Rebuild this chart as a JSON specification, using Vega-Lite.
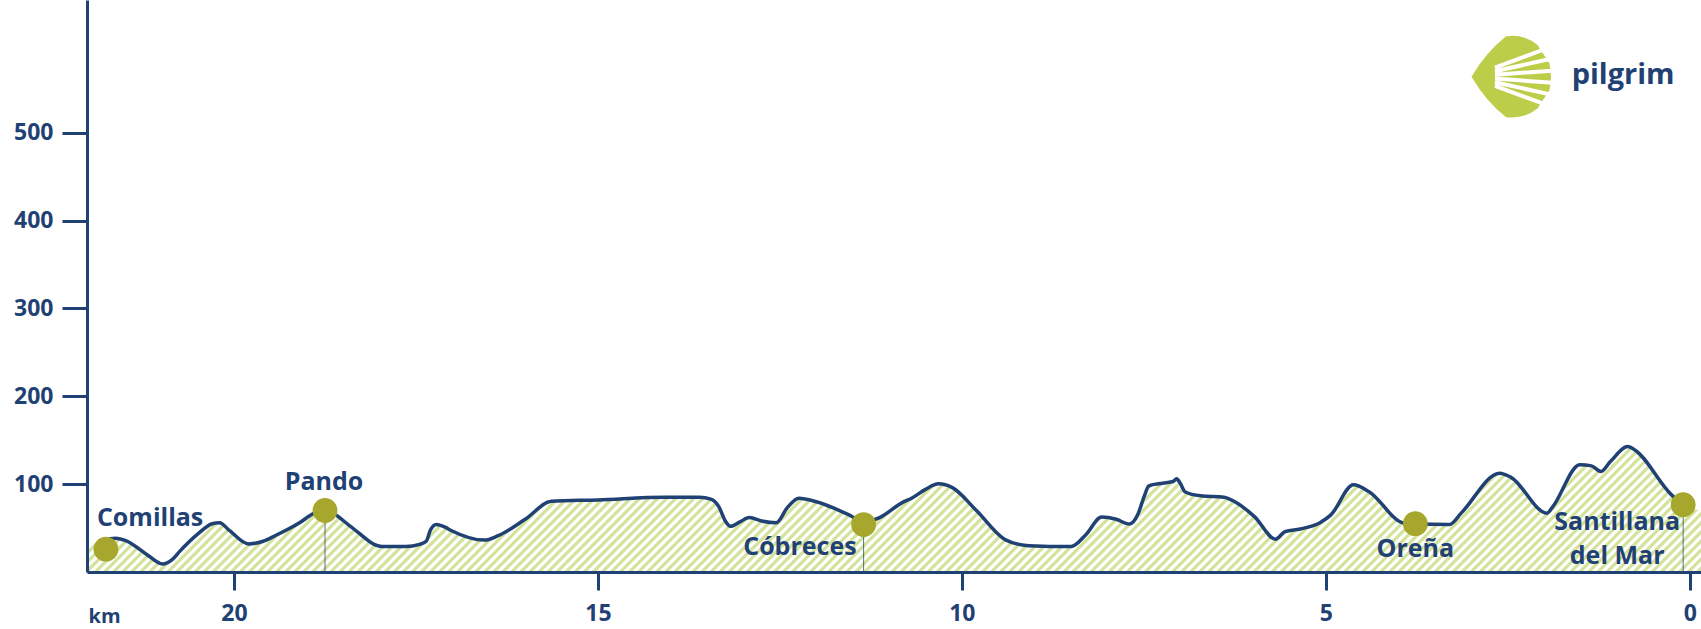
{
  "$schema": "https://vega.github.io/schema/vega-lite/v6.json",
  "width": 1614,
  "height": 572,
  "autosize": {"type": "none"},
  "padding": {"left": 87, "top": 0, "right": 0, "bottom": 57},
  "background": "white",
  "config": {"view": {"stroke": null}, "font": "Open Sans"},
  "datasets": {
    "profile": [
      {"km": 22.02, "elev": 31}, {"km": 21.8, "elev": 36}, {"km": 21.63, "elev": 38.5}, {"km": 21.48, "elev": 35.5},
      {"km": 21.2, "elev": 20}, {"km": 20.98, "elev": 9}, {"km": 20.85, "elev": 14}, {"km": 20.74, "elev": 24},
      {"km": 20.5, "elev": 43}, {"km": 20.3, "elev": 55}, {"km": 20.2, "elev": 56}, {"km": 20.06, "elev": 47},
      {"km": 19.8, "elev": 32}, {"km": 19.6, "elev": 35}, {"km": 19.43, "elev": 41.5}, {"km": 19.1, "elev": 56},
      {"km": 18.9, "elev": 67}, {"km": 18.75, "elev": 71}, {"km": 18.62, "elev": 66}, {"km": 18.4, "elev": 52},
      {"km": 17.96, "elev": 29}, {"km": 17.64, "elev": 29}, {"km": 17.45, "elev": 31.5}, {"km": 17.36, "elev": 35},
      {"km": 17.3, "elev": 48}, {"km": 17.22, "elev": 54}, {"km": 17.1, "elev": 51}, {"km": 17.01, "elev": 47},
      {"km": 16.56, "elev": 36.3}, {"km": 16.38, "elev": 41}, {"km": 16.0, "elev": 60}, {"km": 15.64, "elev": 80.5},
      {"km": 15.0, "elev": 82}, {"km": 14.08, "elev": 85}, {"km": 13.6, "elev": 85}, {"km": 13.45, "elev": 83},
      {"km": 13.34, "elev": 74.5}, {"km": 13.25, "elev": 58}, {"km": 13.18, "elev": 52}, {"km": 13.05, "elev": 57},
      {"km": 12.92, "elev": 62}, {"km": 12.75, "elev": 58}, {"km": 12.55, "elev": 56}, {"km": 12.4, "elev": 73},
      {"km": 12.24, "elev": 84}, {"km": 12.0, "elev": 80}, {"km": 11.55, "elev": 65}, {"km": 11.35, "elev": 57},
      {"km": 11.13, "elev": 62}, {"km": 10.82, "elev": 79}, {"km": 10.69, "elev": 84}, {"km": 10.5, "elev": 94},
      {"km": 10.32, "elev": 100.3}, {"km": 10.13, "elev": 96}, {"km": 9.8, "elev": 70}, {"km": 9.4, "elev": 36.6},
      {"km": 9.08, "elev": 30}, {"km": 8.5, "elev": 29}, {"km": 8.3, "elev": 42}, {"km": 8.08, "elev": 62.5},
      {"km": 7.88, "elev": 60}, {"km": 7.7, "elev": 54.5}, {"km": 7.58, "elev": 66}, {"km": 7.5, "elev": 85},
      {"km": 7.43, "elev": 98}, {"km": 7.3, "elev": 100.5}, {"km": 7.1, "elev": 103}, {"km": 7.05, "elev": 106},
      {"km": 7.0, "elev": 101}, {"km": 6.93, "elev": 91}, {"km": 6.72, "elev": 86.7}, {"km": 6.4, "elev": 85.2},
      {"km": 6.25, "elev": 80}, {"km": 5.98, "elev": 63}, {"km": 5.69, "elev": 37.4}, {"km": 5.56, "elev": 46},
      {"km": 5.35, "elev": 49}, {"km": 5.08, "elev": 56}, {"km": 4.93, "elev": 65}, {"km": 4.62, "elev": 99.2},
      {"km": 4.41, "elev": 91.6}, {"km": 3.93, "elev": 55.6}, {"km": 3.77, "elev": 54.5}, {"km": 3.3, "elev": 54},
      {"km": 3.14, "elev": 67}, {"km": 2.61, "elev": 112.5}, {"km": 2.46, "elev": 108}, {"km": 1.96, "elev": 67},
      {"km": 1.88, "elev": 74.5}, {"km": 1.51, "elev": 122}, {"km": 1.35, "elev": 120.8}, {"km": 1.22, "elev": 114.3},
      {"km": 1.09, "elev": 125.7}, {"km": 0.85, "elev": 142.8}, {"km": 0.77, "elev": 139.8}, {"km": 0.25, "elev": 87.8},
      {"km": 0.09, "elev": 76.5}, {"km": -0.155, "elev": 70}
    ],
    "stops": [
      {"name": "Comillas", "label": "Comillas", "km": 21.76, "elev": 26, "drop": false},
      {"name": "Pando", "label": "Pando", "km": 18.75, "elev": 70, "drop": true},
      {"name": "Cóbreces", "label": "Cóbreces", "km": 11.35, "elev": 54, "drop": true},
      {"name": "Oreña", "label": "Oreña", "km": 3.77, "elev": 55, "drop": false},
      {"name": "Santillana del Mar", "label": "Santillana\ndel Mar", "km": 0.09, "elev": 76.5, "drop": true}
    ]
  },
  "layer": [
    {
      "data": {"values": [{"pattern": "hatch"}]},
      "mark": {"type": "rule", "clip": true, "color": "#d3e39c", "strokeWidth": 1260, "strokeDash": [3.2, 3.2], "strokeCap": "butt"},
      "encoding": {
        "x": {"datum": 17.004, "type": "quantitative",
          "scale": {"domain": [-0.155, 22.02], "reverse": true, "nice": false, "zero": false},
          "axis": {"values": [0, 5, 10, 15, 20], "format": "d", "title": "km", "titleX": 1, "titleY": 50,
            "titleAlign": "left", "titleBaseline": "alphabetic", "titleFont": "Open Sans", "titleFontSize": 20,
            "titleFontWeight": "bold", "titleColor": "#1f4173", "domainColor": "#1f4173", "domainWidth": 3,
            "tickColor": "#1f4173", "tickWidth": 3, "tickSize": 18, "labelFont": "Open Sans", "labelFontSize": 23,
            "labelFontWeight": "bold", "labelColor": "#1f4173", "labelPadding": 12, "labelFlush": false,
            "grid": false, "zindex": 1}},
        "x2": {"datum": 4.861},
        "y": {"datum": 583.7, "type": "quantitative",
          "scale": {"domain": [0, 651], "nice": false, "zero": false},
          "axis": {"values": [100, 200, 300, 400, 500], "title": null, "domainColor": "#1f4173", "domainWidth": 3,
            "tickColor": "#1f4173", "tickWidth": 3, "tickSize": 25, "labelFont": "Open Sans", "labelFontSize": 23,
            "labelFontWeight": "bold", "labelColor": "#1f4173", "labelPadding": 9, "grid": false, "zindex": 1}},
        "y2": {"datum": -422.1}
      }
    },
    {
      "data": {"name": "profile"},
      "mark": {"type": "area", "interpolate": "monotone", "fill": "white", "clip": true},
      "encoding": {
        "x": {"field": "km", "type": "quantitative", "scale": {"domain": [-0.155, 22.02], "reverse": true, "nice": false, "zero": false}},
        "y": {"field": "elev", "type": "quantitative", "scale": {"domain": [0, 651], "nice": false, "zero": false}},
        "y2": {"datum": 651}
      }
    },
    {
      "data": {"name": "profile"},
      "transform": [{"filter": "datum.km < 21.9 && datum.km > 0"}],
      "mark": {"type": "line", "interpolate": "monotone", "color": "#1f4173", "strokeWidth": 3.5, "clip": true},
      "encoding": {
        "x": {"field": "km", "type": "quantitative", "scale": {"domain": [-0.155, 22.02], "reverse": true, "nice": false, "zero": false}},
        "y": {"field": "elev", "type": "quantitative", "scale": {"domain": [0, 651], "nice": false, "zero": false}}
      }
    },
    {
      "data": {"name": "stops"},
      "transform": [{"filter": "datum.drop"}],
      "mark": {"type": "rule", "color": "#1f4173", "strokeWidth": 1, "opacity": 0.75},
      "encoding": {
        "x": {"field": "km", "type": "quantitative", "scale": {"domain": [-0.155, 22.02], "reverse": true, "nice": false, "zero": false}},
        "y": {"field": "elev", "type": "quantitative", "scale": {"domain": [0, 651], "nice": false, "zero": false}},
        "y2": {"datum": 0}
      }
    },
    {
      "data": {"name": "stops"},
      "mark": {"type": "circle", "color": "#a6a72c", "size": 616, "opacity": 1},
      "encoding": {
        "x": {"field": "km", "type": "quantitative", "scale": {"domain": [-0.155, 22.02], "reverse": true, "nice": false, "zero": false}},
        "y": {"field": "elev", "type": "quantitative", "scale": {"domain": [0, 651], "nice": false, "zero": false}}
      }
    },
    {
      "data": {"name": "stops"},
      "transform": [{"filter": "datum.name === 'Comillas'"}],
      "mark": {"type": "text", "align": "left", "baseline": "alphabetic", "dx": -9, "dy": -23, "font": "Open Sans", "fontSize": 25, "fontWeight": "bold", "color": "#1f4173"},
      "encoding": {
        "x": {"field": "km", "type": "quantitative", "scale": {"domain": [-0.155, 22.02], "reverse": true, "nice": false, "zero": false}},
        "y": {"field": "elev", "type": "quantitative", "scale": {"domain": [0, 651], "nice": false, "zero": false}},
        "text": {"field": "label"}
      }
    },
    {
      "data": {"name": "stops"},
      "transform": [{"filter": "datum.name === 'Pando'"}],
      "mark": {"type": "text", "align": "center", "baseline": "alphabetic", "dx": -1, "dy": -20, "font": "Open Sans", "fontSize": 25, "fontWeight": "bold", "color": "#1f4173"},
      "encoding": {
        "x": {"field": "km", "type": "quantitative", "scale": {"domain": [-0.155, 22.02], "reverse": true, "nice": false, "zero": false}},
        "y": {"field": "elev", "type": "quantitative", "scale": {"domain": [0, 651], "nice": false, "zero": false}},
        "text": {"field": "label"}
      }
    },
    {
      "data": {"name": "stops"},
      "transform": [{"filter": "datum.name === 'Cóbreces'"}],
      "mark": {"type": "text", "align": "right", "baseline": "alphabetic", "dx": -7, "dy": 30, "font": "Open Sans", "fontSize": 25, "fontWeight": "bold", "color": "#1f4173"},
      "encoding": {
        "x": {"field": "km", "type": "quantitative", "scale": {"domain": [-0.155, 22.02], "reverse": true, "nice": false, "zero": false}},
        "y": {"field": "elev", "type": "quantitative", "scale": {"domain": [0, 651], "nice": false, "zero": false}},
        "text": {"field": "label"}
      }
    },
    {
      "data": {"name": "stops"},
      "transform": [{"filter": "datum.name === 'Oreña'"}],
      "mark": {"type": "text", "align": "center", "baseline": "alphabetic", "dx": 0, "dy": 33, "font": "Open Sans", "fontSize": 25, "fontWeight": "bold", "color": "#1f4173"},
      "encoding": {
        "x": {"field": "km", "type": "quantitative", "scale": {"domain": [-0.155, 22.02], "reverse": true, "nice": false, "zero": false}},
        "y": {"field": "elev", "type": "quantitative", "scale": {"domain": [0, 651], "nice": false, "zero": false}},
        "text": {"field": "label"}
      }
    },
    {
      "data": {"name": "stops"},
      "transform": [{"filter": "datum.name === 'Santillana del Mar'"}],
      "mark": {"type": "text", "align": "center", "baseline": "alphabetic", "dx": -66, "dy": 25, "lineBreak": "\n", "lineHeight": 34, "font": "Open Sans", "fontSize": 25, "fontWeight": "bold", "color": "#1f4173"},
      "encoding": {
        "x": {"field": "km", "type": "quantitative", "scale": {"domain": [-0.155, 22.02], "reverse": true, "nice": false, "zero": false}},
        "y": {"field": "elev", "type": "quantitative", "scale": {"domain": [0, 651], "nice": false, "zero": false}},
        "text": {"field": "label"}
      }
    },
    {
      "data": {"values": [{"brand": "pilgrim"}]},
      "mark": {"type": "point", "shape": "M -0.87 0 Q -0.55 -0.55 -0.1 -0.9 Q 0.3 -0.95 0.6 -0.7 L 0.86 -0.3 Q 0.93 0 0.86 0.3 L 0.6 0.7 Q 0.3 0.95 -0.1 0.9 Q -0.55 0.55 -0.87 0 Z", "filled": true, "fill": "#bccd4a", "strokeWidth": 0, "size": 8100, "opacity": 1},
      "encoding": {
        "x": {"datum": 2.46, "type": "quantitative", "scale": {"domain": [-0.155, 22.02], "reverse": true, "nice": false, "zero": false}},
        "y": {"datum": 563.7, "type": "quantitative", "scale": {"domain": [0, 651], "nice": false, "zero": false}}
      }
    },
    {
      "data": {"values": [{"brand": "pilgrim"}]},
      "mark": {"type": "point", "shape": "M -0.35 -0.203 L 1 -0.7 M -0.35 -0.122 L 1 -0.42 M -0.35 -0.041 L 1 -0.14 M -0.35 0.041 L 1 0.14 M -0.35 0.122 L 1 0.42 M -0.35 0.203 L 1 0.7", "filled": false, "stroke": "white", "strokeWidth": 4, "strokeCap": "butt", "size": 8100, "opacity": 1},
      "encoding": {
        "x": {"datum": 2.46, "type": "quantitative", "scale": {"domain": [-0.155, 22.02], "reverse": true, "nice": false, "zero": false}},
        "y": {"datum": 563.7, "type": "quantitative", "scale": {"domain": [0, 651], "nice": false, "zero": false}}
      }
    },
    {
      "data": {"values": [{"brand": "pilgrim"}]},
      "mark": {"type": "text", "align": "left", "baseline": "alphabetic", "font": "Open Sans", "fontSize": 29, "fontWeight": "bold", "color": "#1f4173"},
      "encoding": {
        "x": {"datum": 1.622, "type": "quantitative", "scale": {"domain": [-0.155, 22.02], "reverse": true, "nice": false, "zero": false}},
        "y": {"datum": 555.4, "type": "quantitative", "scale": {"domain": [0, 651], "nice": false, "zero": false}},
        "text": {"field": "brand"}
      }
    }
  ]
}
